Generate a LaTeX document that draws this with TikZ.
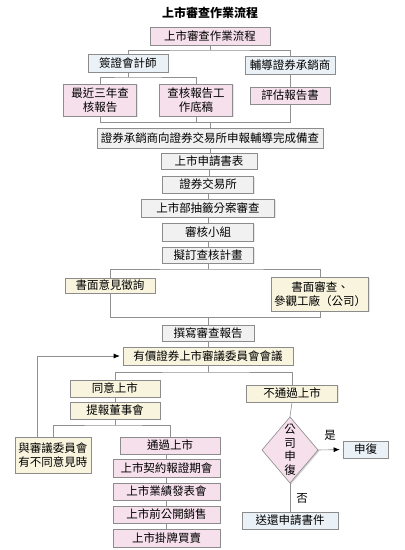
\documentclass[tikz,border=0pt]{standalone}
\usepackage{fontspec}
\setmainfont{Noto Sans CJK TC}
\usetikzlibrary{shadows,arrows.meta}
\definecolor{pinkf}{HTML}{F6E0EB}
\definecolor{bluef}{HTML}{EAF1F7}
\definecolor{greyf}{HTML}{F1F1F1}
\definecolor{creamf}{HTML}{F8F4DE}
\definecolor{bordc}{HTML}{8C8C8C}
\definecolor{linec}{HTML}{909090}
\begin{document}
\begin{tikzpicture}[x=1pt,y=-1pt,
  box/.style={draw=bordc, line width=0.6pt, inner sep=0pt, align=center,
    font=\fontsize{11.5}{14}\selectfont,
    drop shadow={shadow xshift=1.2pt,shadow yshift=-1.2pt,fill=black!18}},
  pinkbox/.style={box,fill=pinkf},
  bluebox/.style={box,fill=bluef},
  greybox/.style={box,fill=greyf},
  creambox/.style={box,fill=creamf},
  sz/.style 2 args={minimum width=#1pt,minimum height=#2pt},
  ln/.style={draw=linec,line width=0.6pt},
  arr/.style={ln,-{Latex[length=6pt,width=5pt,color=black]},shorten >=3pt},
  lbl/.style={font=\fontsize{11.5}{13}\selectfont,inner sep=0pt}]
\useasboundingbox (0,0) rectangle (405,550);
\fill[white] (0,0) rectangle (405,550);

\node[font=\fontsize{12}{14}\selectfont\bfseries,inner sep=0pt] (title) at (210,13) {上市審查作業流程};

\node[pinkbox,sz={120}{18}] (n1) at (210,36) {上市審查作業流程};
\node[bluebox,sz={80}{18}] (acc) at (128,63) {簽證會計師};
\node[bluebox,sz={90}{18}] (und) at (290,65) {輔導證券承銷商};
\node[pinkbox,sz={73}{32}] (r1) at (100,100) {最近三年查\\核報告};
\node[pinkbox,sz={73}{32}] (r2) at (196,100) {查核報告工\\作底稿};
\node[pinkbox,sz={80}{17}] (r3) at (290,95.5) {評估報告書};

\node[greybox,sz={226}{20}] (b1) at (210,138) {證券承銷商向證券交易所申報輔導完成備查};
\node[greybox,sz={96}{16}] (b2) at (209,161) {上市申請書表};
\node[greybox,sz={91}{17}] (b3) at (208,184.5) {證券交易所};
\node[greybox,sz={133}{18}] (b4) at (208,208) {上市部抽籤分案審查};
\node[greybox,sz={91}{18}] (b5) at (208,232) {審核小組};
\node[greybox,sz={91}{16}] (b6) at (208,255) {擬訂查核計畫};

\node[creambox,sz={90}{15}] (c1) at (110,285.5) {書面意見徵詢};
\node[creambox,sz={97}{34}] (c2) at (320,294) {書面審查、\\參觀工廠（公司）};

\node[greybox,sz={92}{16}] (d1) at (208,333) {撰寫審查報告};
\node[creambox,sz={170}{18}] (d2) at (208,356) {有價證券上市審議委員會會議};

\node[creambox,sz={90}{17}] (e1) at (115,388.5) {同意上市};
\node[creambox,sz={90}{17}] (e2) at (115,410.5) {提報董事會};
\node[creambox,sz={91}{17}] (f1) at (292,393.5) {不通過上市};

\node[creambox,sz={76}{36}] (g1) at (53,455) {與審議委員會\\有不同意見時};
\node[pinkbox,sz={100}{17}] (h1) at (170,445.5) {通過上市};
\node[pinkbox,sz={107}{18}] (h2) at (166.5,468) {上市契約報證期會};
\node[pinkbox,sz={107}{17}] (h3) at (166.5,491.5) {上市業績發表會};
\node[pinkbox,sz={107}{17}] (h4) at (166.5,514.5) {上市前公開銷售};
\node[pinkbox,sz={107}{18}] (h5) at (166.5,538) {上市掛牌買賣};

\fill[black!18] (291.2,418.2) -- (319.2,451.2) -- (291.2,484.2) -- (263.2,451.2) -- cycle;
\draw[draw=bordc,line width=0.6pt,fill=pinkf] (290,417) -- (318,450) -- (290,483) -- (262,450) -- cycle;
\node[minimum width=56pt,minimum height=66pt,inner sep=0pt,align=center,
  font=\fontsize{11.5}{13.5}\selectfont] (dia) at (290,450) {公\\司\\申\\復};

\node[bluebox,sz={45}{17}] (sf) at (365.5,449.5) {申復};
\node[bluebox,sz={96}{17}] (ret) at (290,520.5) {送還申請書件};
\node[lbl] (yes) at (330,435) {是};
\node[lbl] (no) at (302,498) {否};

% connectors
\coordinate (j1) at (210,50);
\draw[ln] (n1.south) -- (j1);
\draw[ln] (acc.north) |- (j1) -| (und.north);
\coordinate (j2) at (128,77);
\draw[ln] (acc.south) -- (j2);
\draw[ln] (r1.north) |- (j2) -| (r2.north);
\draw[ln] (und.south) -- (r3.north);
\coordinate (j3) at (210,122);
\draw[ln] (r1.south) |- (j3);
\draw[ln] (r2.south) -- (r2.south |- j3);
\draw[ln] (r3.south) |- (j3);
\draw[ln] (j3) -- (b1.north);
\draw[ln] (b1.south) -- (b1.south |- b2.north);
\draw[ln] (b2.south) -- (b2.south |- b3.north);
\draw[ln] (b3.south) -- (b4.north);
\draw[ln] (b4.south) -- (b5.north);
\draw[ln] (b5.south) -- (b6.north);
\coordinate (j4) at (208,269);
\draw[ln] (b6.south) -- (j4);
\draw[ln] (c1.north) |- (j4) -| (c2.north);
\coordinate (j5) at (208,317);
\draw[ln] (c1.south) |- (j5);
\draw[ln] (c2.south) |- (j5);
\draw[ln] (j5) -- (d1.north);
\draw[ln] (d1.south) -- (d2.north);
\coordinate (j6) at (208,372);
\draw[ln] (d2.south) -- (j6);
\draw[ln] (e1.north) |- (j6) -| (f1.north);
\draw[ln] (e1.south) -- (e2.north);
\coordinate (j7) at (115,425);
\draw[ln] (e2.south) -- (j7);
\draw[ln] (g1.north) |- (j7) -| (h1.north);
\draw[ln] (h2.north) -- (h2.north |- h1.south);
\draw[ln] (h2.south) -- (h3.north);
\draw[ln] (h3.south) -- (h4.north);
\draw[ln] (h4.south) -- (h5.north);
\coordinate (fb) at (37,356);
\draw[arr] (g1.north -| fb) -- (fb) -- (d2.west);
\draw[ln] (f1.south) -- (dia.north);
\draw[arr] (dia.east) -- (sf.west);
\draw[ln] (dia.south) -- (ret.north);
\end{tikzpicture}
\end{document}
